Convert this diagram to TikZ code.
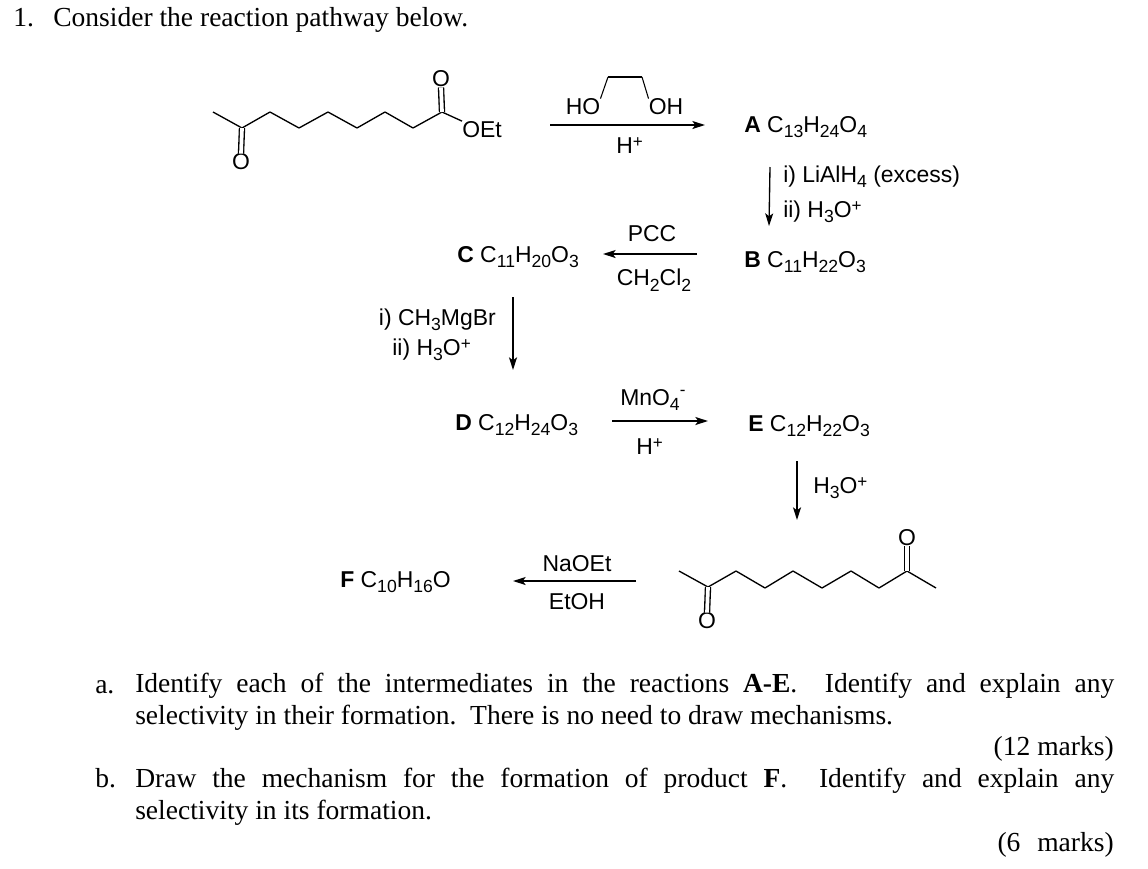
\documentclass[tikz,border=0pt]{standalone}
\usepackage{fontspec}
\setmainfont{Liberation Serif}
\newfontfamily\chemfont{Liberation Sans}
\usetikzlibrary{arrows.meta}
\newcommand{\lowtxt}[1]{\raisebox{-.24em}{\fontsize{13.2}{14}\selectfont #1}}
\newcommand{\hightxt}[1]{\raisebox{.26em}{\fontsize{12.8}{14}\selectfont #1}}
\newcommand{\minustxt}{\raisebox{.42em}{\fontsize{12.8}{14}\selectfont -}}
\tikzset{
  chem/.style={font=\chemfont\fontsize{17.2}{21}\selectfont,inner sep=0pt},
  body/.style={font=\fontsize{20.65}{24}\selectfont,inner sep=0pt,anchor=base west},
  para/.style={font=\fontsize{20.65}{24}\selectfont,inner sep=0pt,anchor=north west,text width=734.25pt,align=justify},
  marks/.style={font=\fontsize{20.65}{24}\selectfont,inner sep=0pt,anchor=base east},
  bond/.style={line width=1pt},
  dbond/.style={double,double distance=2.8pt,line width=1pt},
  rxn/.style={line width=1pt,-{Stealth[length=9.5pt,width=6pt,inset=2.2pt]}}
}
\begin{document}
\begin{tikzpicture}[x=.75pt,y=-.75pt]
  \useasboundingbox (0,0) rectangle (1148,868);
  % question text
  \node[body] (q1) at (13,26.5) {1.};
  \node[body] (qtext) at (53,26.5) {Consider the reaction pathway below.};
  \node[body] (qa) at (95,693) {a.};
  \node[para] (atext) at (135,673) {Identify each of the intermediates in the reactions \textbf{A-E}.\ \ Identify and explain any\linebreak selectivity in their formation.\ \ There is no need to draw mechanisms.};
  \node[marks] (amarks) at (1114,755) {(12 marks)};
  \node[body] (qb) at (95,787) {b.};
  \node[para] (btext) at (135,768) {Draw the mechanism for the formation of product \textbf{F}.\ \ Identify and explain any\linebreak selectivity in its formation.};
  \node[marks] (bmarks) at (1114,851) {(6\hspace{12.6pt}marks)};
  % keto ester
  \coordinate (s1) at (213,112);
  \coordinate (s2) at (242,128);
  \coordinate (s3) at (270,112);
  \coordinate (s4) at (299,128);
  \coordinate (s5) at (328,112);
  \coordinate (s6) at (357,128);
  \coordinate (s7) at (385,112);
  \coordinate (s8) at (413,128);
  \coordinate (s9) at (442,112);
  \node[chem] (so1) at (241,162) {O};
  \node[chem] (so2) at (441,79) {O};
  \node[chem,anchor=west] (set) at (462,129.5) {OEt};
  \begin{scope}[bond]
    \draw (s1) to (s2);
    \draw (s2) to (s3);
    \draw (s3) to (s4);
    \draw (s4) to (s5);
    \draw (s5) to (s6);
    \draw (s6) to (s7);
    \draw (s7) to (s8);
    \draw (s8) to (s9);
    \draw (s9) to (set.north west);
    \draw[dbond] (s2) to (so1.north);
    \draw[dbond] (s9) to (so2.south);
  \end{scope}
  % diol reagent
  \node[chem] (ho) at (583,107) {HO};
  \node[chem] (oh) at (666,107) {OH};
  \coordinate (g1) at (608,77);
  \coordinate (g2) at (642,77);
  \draw[line width=.8pt] (ho.north east) to (g1);
  \draw[line width=.8pt] (g1) to (g2);
  \draw[line width=.8pt] (g2) to (oh.north west);
  % intermediates
  \node[chem,anchor=base west] (A) at (744,132) {\textbf{A} C\lowtxt{13}H\lowtxt{24}O\lowtxt{4}};
  \node[chem,anchor=base west] (B) at (744,267) {\textbf{B} C\lowtxt{11}H\lowtxt{22}O\lowtxt{3}};
  \node[chem,anchor=base west] (C) at (457,262) {\textbf{C} C\lowtxt{11}H\lowtxt{20}O\lowtxt{3}};
  \node[chem,anchor=base west] (D) at (455,430) {\textbf{D} C\lowtxt{12}H\lowtxt{24}O\lowtxt{3}};
  \node[chem,anchor=base west] (E) at (748,431) {\textbf{E} C\lowtxt{12}H\lowtxt{22}O\lowtxt{3}};
  \node[chem,anchor=base west] (F) at (340,587) {\textbf{F} C\lowtxt{10}H\lowtxt{16}O};
  % reagents
  \node[chem,anchor=base west] (hp1) at (616,153) {H\hightxt{+}};
  \node[chem,anchor=base west] (ab1) at (783,182) {i) LiAlH\lowtxt{4} (excess)};
  \node[chem,anchor=base west] (ab2) at (783,217) {ii) H\lowtxt{3}O\hightxt{+}};
  \node[chem] (pcc) at (652,234) {PCC};
  \node[chem] (dcm) at (654,280) {CH\lowtxt{2}Cl\lowtxt{2}};
  \node[chem,anchor=base east] (cd1) at (496,325) {i) CH\lowtxt{3}MgBr};
  \node[chem,anchor=base east] (cd2) at (471,355) {ii) H\lowtxt{3}O\hightxt{+}};
  \node[chem,anchor=base west] (mno) at (620,405) {MnO\lowtxt{4}\minustxt};
  \node[chem,anchor=base west] (hp2) at (636,454) {H\hightxt{+}};
  \node[chem,anchor=base west] (ef) at (813,493) {H\lowtxt{3}O\hightxt{+}};
  \node[chem] (naoet) at (577,564) {NaOEt};
  \node[chem] (etoh) at (577,602) {EtOH};
  % reaction arrows
  \coordinate (r1a) at (550,125);
  \coordinate (r1b) at (705,125);
  \coordinate (r2a) at (770,167);
  \coordinate (r2b) at (769,226);
  \coordinate (r3a) at (697,254);
  \coordinate (r3b) at (603,254);
  \coordinate (r4a) at (513,297);
  \coordinate (r4b) at (513,370);
  \coordinate (r5a) at (612,421);
  \coordinate (r5b) at (708,421);
  \coordinate (r6a) at (797,461);
  \coordinate (r6b) at (797,520);
  \coordinate (r7a) at (636,581);
  \coordinate (r7b) at (513,581);
  \begin{scope}[rxn]
    \draw (r1a) to (r1b);
    \draw (r2a) to (r2b);
    \draw (r3a) to (r3b);
    \draw (r4a) to (r4b);
    \draw (r5a) to (r5b);
    \draw (r6a) to (r6b);
    \draw (r7a) to (r7b);
  \end{scope}
  % diketone
  \coordinate (t1) at (679,571);
  \coordinate (t2) at (708,587);
  \coordinate (t3) at (736,571);
  \coordinate (t4) at (765,588);
  \coordinate (t5) at (793,571);
  \coordinate (t6) at (822,588);
  \coordinate (t7) at (851,571);
  \coordinate (t8) at (879,588);
  \coordinate (t9) at (907,571);
  \coordinate (t10) at (936,588);
  \node[chem] (to1) at (707,621) {O};
  \node[chem] (to2) at (907,538) {O};
  \begin{scope}[bond]
    \draw (t1) to (t2);
    \draw (t2) to (t3);
    \draw (t3) to (t4);
    \draw (t4) to (t5);
    \draw (t5) to (t6);
    \draw (t6) to (t7);
    \draw (t7) to (t8);
    \draw (t8) to (t9);
    \draw (t9) to (t10);
    \draw[dbond] (t2) to (to1.north);
    \draw[dbond] (t9) to (to2.south);
  \end{scope}
\end{tikzpicture}
\end{document}
